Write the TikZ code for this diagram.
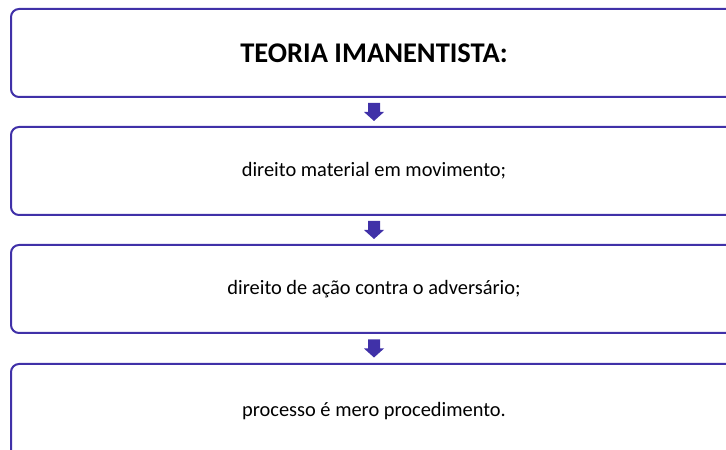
\documentclass[tikz,border=0pt]{standalone}
\usepackage{fontspec}
\setmainfont{Carlito}
\usetikzlibrary{calc}
\definecolor{boxline}{RGB}{64,49,168}
\tikzset{
  stepbox/.style={draw=boxline, line width=2pt, rounded corners=8pt, minimum width=726pt, minimum height=88pt, inner sep=0pt, font=\fontsize{20.4pt}{24pt}\selectfont},
  downarrow/.style={fill=boxline, draw=none}
}
\begin{document}
\begin{tikzpicture}[x=1pt,y=1pt]
\useasboundingbox (0,0) rectangle (726,450);
\clip (0,0) rectangle (726,450);
\node[stepbox] (b1) at (374,397) {\fontsize{28.5pt}{32pt}\selectfont\bfseries TEORIA IMANENTISTA:};
\node[stepbox] (b2) at (374,279) {direito material em movimento;};
\node[stepbox] (b3) at (374,161) {direito de ação contra o adversário;};
\node[stepbox, minimum height=94pt] (b4) at (374,39) {\raisebox{-2pt}{processo é mero procedimento.}};
\foreach \a/\b in {b1/b2,b2/b3,b3/b4}{
  \coordinate (m) at ($(\a.south)!0.5!(\b.north)$);
  \fill[downarrow] ($(m)+(-6,9)$) -- ($(m)+(6,9)$) -- ($(m)+(6,0)$) -- ($(m)+(10,0)$) -- ($(m)+(0,-9)$) -- ($(m)+(-10,0)$) -- ($(m)+(-6,0)$) -- cycle;
}
\end{tikzpicture}
\end{document}
